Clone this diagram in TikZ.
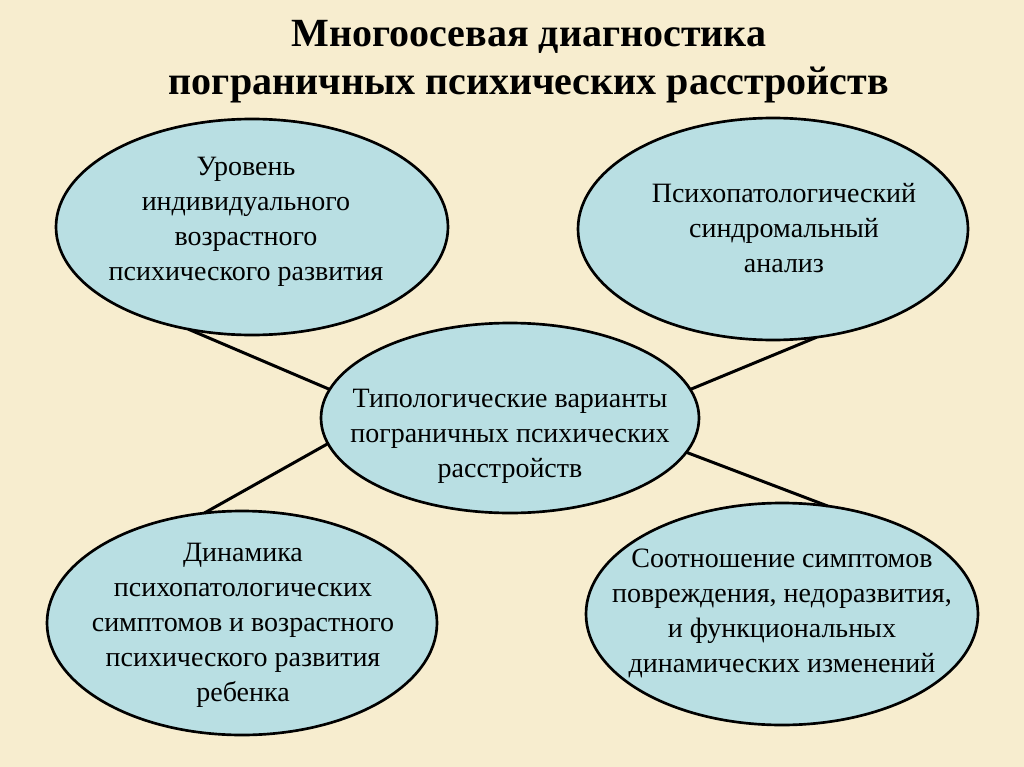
\documentclass[tikz,border=0pt]{standalone}
\usepackage{fontspec}
\setmainfont{Liberation Serif}
\usetikzlibrary{shapes.geometric}
\definecolor{bgc}{HTML}{F7EDCF}
\definecolor{fillc}{HTML}{B9DFE3}
\begin{document}
\begin{tikzpicture}[x=0.75pt,y=-0.75pt,
  oval/.style={ellipse, draw=black, line width=2pt, fill=fillc, inner sep=0pt, outer sep=0pt},
  txt/.style={align=center, font=\fontsize{21}{26.25}\selectfont, inner sep=0pt},
  ttl/.style={align=center, font=\fontsize{30}{36}\selectfont\bfseries, inner sep=0pt},
  link/.style={line width=2.25pt}]
\fill[bgc] (0,0) rectangle (1024,767);
\useasboundingbox (0,0) rectangle (1024,767);

\node[ttl] (title) at (529,62) {Многоосевая диагностика\\пограничных психических расстройств};

\node[oval, minimum width=294pt, minimum height=162pt] (tl) at (252,227) {};
\node[oval, minimum width=292.5pt, minimum height=166.5pt] (tr) at (773,229) {};
\node[oval, minimum width=283.5pt, minimum height=142.5pt] (c) at (510,418) {};
\node[oval, minimum width=292.5pt, minimum height=168pt] (bl) at (242,623) {};
\node[oval, minimum width=294pt, minimum height=166.5pt] (br) at (782,614) {};

\draw[link] (tl.238) -- (c.171);
\draw[link] (c.9) -- (tr.292);
\draw[link] (c.188) -- (bl.109);
\draw[link] (c.349) -- (br.67);

\node[txt] (tlt) at (246,222) {Уровень\\индивидуального\\возрастного\\психического развития};
\node[txt] (trt) at (784,228) {Психопатологический\\синдромальный\\анализ};
\node[txt] (ct) at (510,436) {Типологические варианты\\пограничных психических\\расстройств};
\node[txt] (blt) at (243,625) {Динамика\\психопатологических\\симптомов и возрастного\\психического развития\\ребенка};
\node[txt] (brt) at (782,613) {Соотношение симптомов\\повреждения, недоразвития,\\и функциональных\\динамических изменений};
\end{tikzpicture}
\end{document}
